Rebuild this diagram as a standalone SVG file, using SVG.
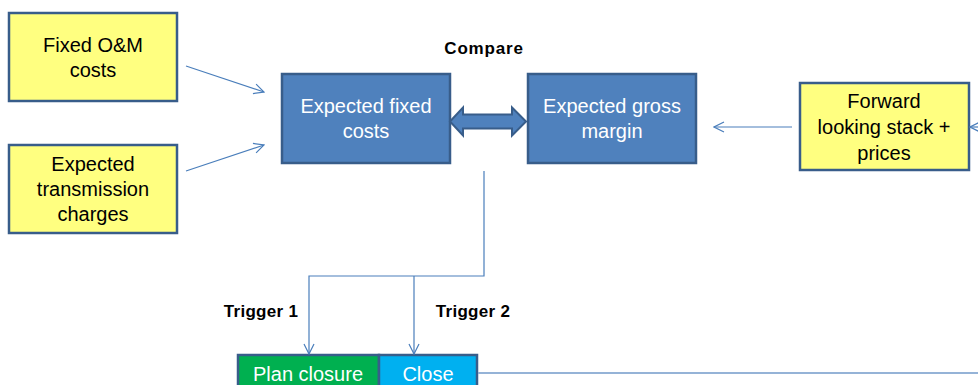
<svg xmlns="http://www.w3.org/2000/svg" width="978" height="385" viewBox="0 0 978 385">
<style>
.y{fill:#FFFF80;stroke:#385D8A;stroke-width:2.5}
.b{fill:#4F81BD;stroke:#385D8A;stroke-width:2.5}
.t{font-family:"Liberation Sans",Arial,sans-serif;font-size:20px;text-anchor:middle;fill:#000}
.w{fill:#fff}
.lb{font-family:"Liberation Sans",Arial,sans-serif;font-weight:bold;font-size:17px;text-anchor:middle;fill:#000}
.c{fill:none;stroke:#4A7EBB;stroke-width:1.2}
</style>
<defs>
<marker id="ah" viewBox="0 0 12 12" refX="11" refY="6" markerWidth="12" markerHeight="12" markerUnits="userSpaceOnUse" orient="auto">
<path d="M1,1 L11,6 L1,11" fill="none" stroke="#4A7EBB" stroke-width="1.2"/>
</marker>
</defs>
<g id="fixed-om"><rect class="y" x="9" y="13" width="168" height="88"/><text class="t" x="93" y="52">Fixed O&amp;M</text><text class="t" x="93" y="77">costs</text></g>
<g id="transmission"><rect class="y" x="9" y="145" width="168" height="88"/><text class="t" x="93" y="171">Expected</text><text class="t" x="93" y="196">transmission</text><text class="t" x="93" y="221">charges</text></g>
<g id="fixed-costs"><rect class="b" x="282" y="74" width="168" height="89"/><text class="t w" x="366" y="113">Expected fixed</text><text class="t w" x="366" y="138">costs</text></g>
<g id="gross-margin"><rect class="b" x="528" y="74" width="168" height="89"/><text class="t w" x="612" y="113">Expected gross</text><text class="t w" x="612" y="138">margin</text></g>
<g id="forward"><rect class="y" x="800" y="83" width="169" height="87"/><text class="t" x="884" y="108">Forward</text><text class="t" x="884" y="134">looking stack +</text><text class="t" x="884" y="160">prices</text></g>
<g id="plan-closure"><rect x="238" y="355" width="141" height="40" fill="#00B050" stroke="#385D8A" stroke-width="2.5"/><text class="t w" x="308" y="381">Plan closure</text></g>
<g id="close"><rect x="379" y="355" width="98" height="40" fill="#00B0F0" stroke="#385D8A" stroke-width="2.5"/><text class="t w" x="428" y="381">Close</text></g>
<g id="labels">
<text class="lb" x="484" y="54" style="letter-spacing:0.8px">Compare</text>
<text class="lb" x="261" y="317" style="letter-spacing:0.3px">Trigger 1</text>
<text class="lb" x="473" y="317" style="letter-spacing:0.3px">Trigger 2</text>
</g>
<g id="connectors">
<line class="c" x1="186" y1="66" x2="264" y2="92" marker-end="url(#ah)"/>
<line class="c" x1="186" y1="171" x2="264" y2="145" marker-end="url(#ah)"/>
<line class="c" x1="792" y1="127" x2="714" y2="127" marker-end="url(#ah)"/>
<line class="c" x1="978" y1="127" x2="970" y2="127" marker-end="url(#ah)"/>
<polyline class="c" points="484,171 484,276 309,276 309,354" marker-end="url(#ah)"/>
<line class="c" x1="414" y1="276" x2="414" y2="354" marker-end="url(#ah)"/>
<line x1="478" y1="373" x2="978" y2="373" stroke="#95B3D7" stroke-width="2"/>
<path d="M450,121.5 L463,107.5 L463,114.5 L512,114.5 L512,107.5 L526,121.5 L512,135.5 L512,128.5 L463,128.5 L463,135.5 Z" fill="#4F81BD" stroke="#385D8A" stroke-width="2"/>
</g>
</svg>
